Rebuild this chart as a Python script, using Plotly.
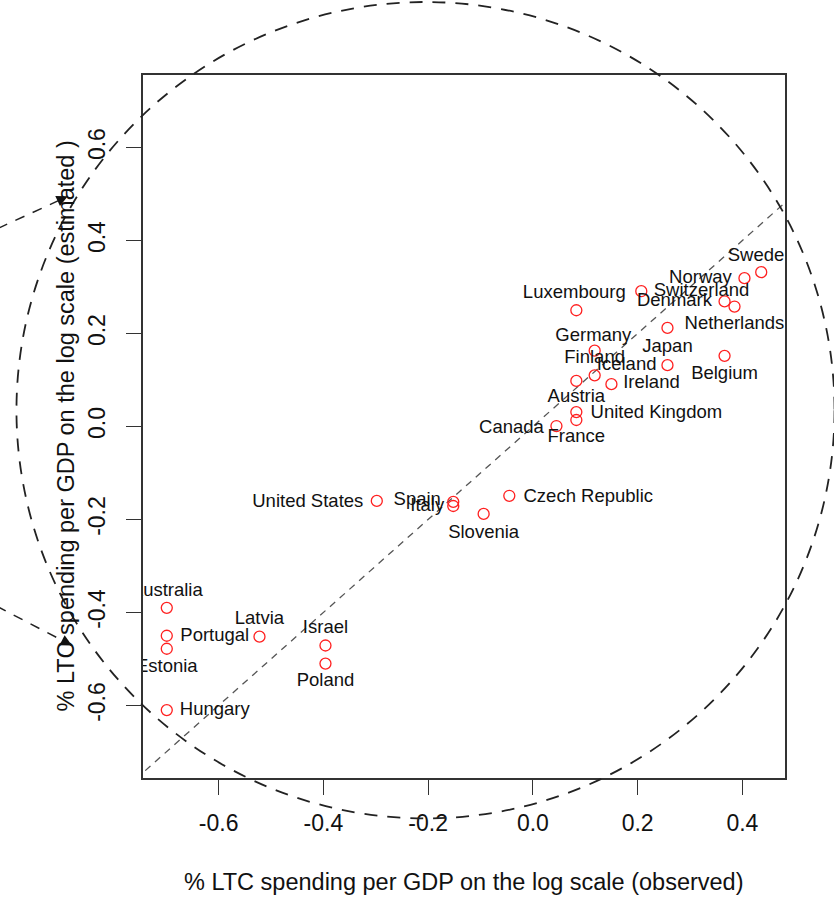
import plotly.graph_objects as go

# ---------------- data ----------------
countries = ["Sweden", "Norway", "Luxembourg", "Switzerland", "Denmark", "Germany",
             "Netherlands", "Finland", "Belgium", "Japan", "Iceland", "Austria",
             "Ireland", "United Kingdom", "France", "Canada", "United States",
             "Spain", "Italy", "Slovenia", "Czech Republic", "Australia", "Portugal",
             "Estonia", "Latvia", "Israel", "Poland", "Hungary"]
observed = [0.436, 0.404, 0.207, 0.366, 0.385, 0.083, 0.257, 0.118, 0.366, 0.257,
            0.118, 0.083, 0.150, 0.083, 0.083, 0.045, -0.298, -0.152, -0.152, -0.094,
            -0.045, -0.699, -0.699, -0.699, -0.522, -0.396, -0.396, -0.699]
estimated = [0.332, 0.319, 0.291, 0.269, 0.258, 0.250, 0.212, 0.163, 0.152, 0.132,
             0.110, 0.098, 0.091, 0.031, 0.014, 0.001, -0.160, -0.162, -0.171, -0.188,
             -0.149, -0.390, -0.450, -0.478, -0.452, -0.471, -0.510, -0.610]
x_ticks = [-0.6, -0.4, -0.2, 0.0, 0.2, 0.4]
y_ticks = [-0.6, -0.4, -0.2, 0.0, 0.2, 0.4, 0.6]
y_lim = [-0.7, 0.7]

x_title = "% LTC spending per GDP on the log scale (observed)"
y_title = "% LTC spending per GDP on the log scale (estimated )"

# ---------------- style ----------------
# label offsets from the point, in pixels (dx right, dy down)
label_offsets = {
    "Sweden": (0, -16), "Norway": (-44, 0), "Luxembourg": (-67, 2),
    "Switzerland": (-23, -10), "Denmark": (-60, -5), "Germany": (17, 26),
    "Netherlands": (67, -4), "Finland": (0, 8), "Belgium": (0, 19),
    "Japan": (0, -18), "Iceland": (32, -10), "Austria": (0, 16),
    "Ireland": (40, -1), "United Kingdom": (80, 1), "France": (0, 17),
    "Canada": (-45, 2), "United States": (-69, 1), "Spain": (-36, -1),
    "Italy": (-26, 0), "Slovenia": (0, 19), "Czech Republic": (79, 2),
    "Australia": (0, -16), "Portugal": (48, 1), "Estonia": (0, 19),
    "Latvia": (0, -17), "Israel": (0, -17), "Poland": (0, 18), "Hungary": (48, 0),
}

W, H = 834, 898
ML, MR, MT, MB = 143, 49, 75, 120
PW, PH = W - ML - MR, H - MT - MB
FONT = "Liberation Sans, Arial, Helvetica, sans-serif"

# R-style axis limits (4% extension)
xspan = max(observed) - min(observed)
xr = [min(observed) - 0.04 * xspan, max(observed) + 0.04 * xspan]
yspan = y_lim[1] - y_lim[0]
yr = [y_lim[0] - 0.04 * yspan, y_lim[1] + 0.04 * yspan]
ppx = PW / (xr[1] - xr[0])
ppy = PH / (yr[1] - yr[0])


def paper_x(x):
    return (x - xr[0]) / (xr[1] - xr[0])


def paper_y(y):
    return (y - yr[0]) / (yr[1] - yr[0])


lab_x = [x + label_offsets[c][0] / ppx for c, x in zip(countries, observed)]
lab_y = [y - label_offsets[c][1] / ppy for c, y in zip(countries, estimated)]

fig = go.Figure()
fig.add_trace(go.Scatter(
    x=observed, y=estimated, mode="markers",
    marker=dict(symbol="circle-open", size=11, color="#ff2020",
                line=dict(width=1.3, color="#ff2020")),
    hoverinfo="skip", showlegend=False, cliponaxis=True))
fig.add_trace(go.Scatter(
    x=lab_x, y=lab_y, mode="text", text=countries, textposition="middle center",
    textfont=dict(family=FONT, size=18.5, color="#111111"),
    hoverinfo="skip", showlegend=False, cliponaxis=True))

shapes = []
# y = x reference line (clipped to plot area)
shapes.append(dict(type="line", xref="x", yref="y", x0=-1, y0=-1, x1=1, y1=1,
                   line=dict(color="#555555", width=1.3, dash="7px,6px"), layer="below"))
# big dashed circle (drawn outside plot region too)
circ_c = (-0.205, 0.035)
circ_r = (0.781, 0.878)
shapes.append(dict(type="circle", xref="paper", yref="paper",
                   x0=paper_x(circ_c[0] - circ_r[0]), x1=paper_x(circ_c[0] + circ_r[0]),
                   y0=paper_y(circ_c[1] - circ_r[1]), y1=paper_y(circ_c[1] + circ_r[1]),
                   line=dict(color="#222222", width=1.8, dash="13px,10px")))
# two arrows on the left
arrows = [((-1.12, 0.375), (-0.888, 0.495)), ((-1.12, -0.330), (-0.880, -0.471))]
annotations = []
for (tx, ty), (hx, hy) in arrows:
    shapes.append(dict(type="line", xref="paper", yref="paper",
                       x0=paper_x(tx), y0=paper_y(ty), x1=paper_x(hx), y1=paper_y(hy),
                       line=dict(color="#222222", width=1.5, dash="10px,9px")))
    dxp = (hx - tx) * ppx
    dyp = -(hy - ty) * ppy
    n = (dxp ** 2 + dyp ** 2) ** 0.5
    annotations.append(dict(xref="paper", yref="paper", x=paper_x(hx), y=paper_y(hy),
                            ax=-dxp / n * 12, ay=-dyp / n * 12, text="", showarrow=True,
                            arrowhead=2, arrowsize=1.6, arrowwidth=1.4, arrowcolor="#111111"))

annotations.append(dict(xref="paper", yref="paper", x=0.5, y=(MT + PH - 882) / PH,
                        text=x_title, showarrow=False, yanchor="middle", xanchor="center",
                        font=dict(family=FONT, size=23.5, color="#111111")))
annotations.append(dict(xref="paper", yref="paper", x=(65 - ML) / PW, y=0.5,
                        text=y_title, showarrow=False, textangle=-90,
                        xanchor="center", yanchor="middle",
                        font=dict(family=FONT, size=23.5, color="#111111")))

axis_common = dict(showgrid=False, zeroline=False, showline=True, mirror=True,
                   linecolor="#333333", linewidth=1.5, ticks="outside", ticklen=15,
                   tickwidth=1.3, tickcolor="#333333", automargin=False,
                   tickfont=dict(family=FONT, size=23, color="#111111"))

fig.update_layout(
    width=W, height=H, margin=dict(l=ML, r=MR, t=MT, b=MB),
    paper_bgcolor="white", plot_bgcolor="white",
    xaxis=dict(range=xr, tickvals=x_ticks, ticktext=[f"{v:.1f}" for v in x_ticks],
               ticklabelstandoff=9, **axis_common),
    yaxis=dict(range=yr, tickvals=y_ticks, ticktext=[f"{v:.1f}" for v in y_ticks],
               tickangle=-90, ticklabelstandoff=12, **axis_common),
    shapes=shapes, annotations=annotations, showlegend=False,
)

fig.write_html("out.html")
